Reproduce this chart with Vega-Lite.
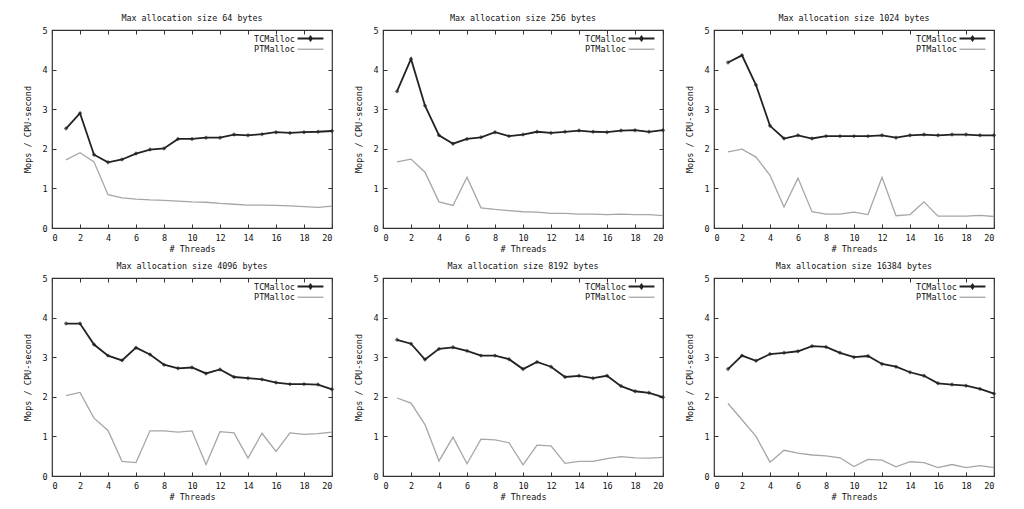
{
  "$schema": "https://vega.github.io/schema/vega-lite/v6.json",
  "background": "white",
  "padding": {"left": 23, "top": 13, "right": 4, "bottom": 4},
  "data": {"values": [
    {"size":64,"threads":1,"TCMalloc":2.51,"PTMalloc":1.72},{"size":64,"threads":2,"TCMalloc":2.90,"PTMalloc":1.90},{"size":64,"threads":3,"TCMalloc":1.85,"PTMalloc":1.67},{"size":64,"threads":4,"TCMalloc":1.66,"PTMalloc":0.84},{"size":64,"threads":5,"TCMalloc":1.73,"PTMalloc":0.76},
    {"size":64,"threads":6,"TCMalloc":1.88,"PTMalloc":0.73},{"size":64,"threads":7,"TCMalloc":1.98,"PTMalloc":0.71},{"size":64,"threads":8,"TCMalloc":2.01,"PTMalloc":0.70},{"size":64,"threads":9,"TCMalloc":2.25,"PTMalloc":0.68},{"size":64,"threads":10,"TCMalloc":2.25,"PTMalloc":0.66},
    {"size":64,"threads":11,"TCMalloc":2.28,"PTMalloc":0.65},{"size":64,"threads":12,"TCMalloc":2.28,"PTMalloc":0.62},{"size":64,"threads":13,"TCMalloc":2.36,"PTMalloc":0.60},{"size":64,"threads":14,"TCMalloc":2.34,"PTMalloc":0.58},{"size":64,"threads":15,"TCMalloc":2.37,"PTMalloc":0.58},
    {"size":64,"threads":16,"TCMalloc":2.42,"PTMalloc":0.57},{"size":64,"threads":17,"TCMalloc":2.40,"PTMalloc":0.56},{"size":64,"threads":18,"TCMalloc":2.42,"PTMalloc":0.54},{"size":64,"threads":19,"TCMalloc":2.43,"PTMalloc":0.52},{"size":64,"threads":20,"TCMalloc":2.45,"PTMalloc":0.55},

    {"size":256,"threads":1,"TCMalloc":3.45,"PTMalloc":1.67},{"size":256,"threads":2,"TCMalloc":4.27,"PTMalloc":1.74},{"size":256,"threads":3,"TCMalloc":3.09,"PTMalloc":1.41},{"size":256,"threads":4,"TCMalloc":2.34,"PTMalloc":0.66},{"size":256,"threads":5,"TCMalloc":2.13,"PTMalloc":0.57},
    {"size":256,"threads":6,"TCMalloc":2.25,"PTMalloc":1.28},{"size":256,"threads":7,"TCMalloc":2.29,"PTMalloc":0.51},{"size":256,"threads":8,"TCMalloc":2.42,"PTMalloc":0.47},{"size":256,"threads":9,"TCMalloc":2.32,"PTMalloc":0.44},{"size":256,"threads":10,"TCMalloc":2.36,"PTMalloc":0.41},
    {"size":256,"threads":11,"TCMalloc":2.43,"PTMalloc":0.40},{"size":256,"threads":12,"TCMalloc":2.40,"PTMalloc":0.37},{"size":256,"threads":13,"TCMalloc":2.43,"PTMalloc":0.37},{"size":256,"threads":14,"TCMalloc":2.46,"PTMalloc":0.35},{"size":256,"threads":15,"TCMalloc":2.43,"PTMalloc":0.35},
    {"size":256,"threads":16,"TCMalloc":2.42,"PTMalloc":0.34},{"size":256,"threads":17,"TCMalloc":2.46,"PTMalloc":0.35},{"size":256,"threads":18,"TCMalloc":2.47,"PTMalloc":0.34},{"size":256,"threads":19,"TCMalloc":2.43,"PTMalloc":0.34},{"size":256,"threads":20,"TCMalloc":2.47,"PTMalloc":0.31},

    {"size":1024,"threads":1,"TCMalloc":4.18,"PTMalloc":1.92},{"size":1024,"threads":2,"TCMalloc":4.36,"PTMalloc":1.99},{"size":1024,"threads":3,"TCMalloc":3.61,"PTMalloc":1.79},{"size":1024,"threads":4,"TCMalloc":2.58,"PTMalloc":1.33},{"size":1024,"threads":5,"TCMalloc":2.26,"PTMalloc":0.53},
    {"size":1024,"threads":6,"TCMalloc":2.34,"PTMalloc":1.26},{"size":1024,"threads":7,"TCMalloc":2.26,"PTMalloc":0.41},{"size":1024,"threads":8,"TCMalloc":2.32,"PTMalloc":0.35},{"size":1024,"threads":9,"TCMalloc":2.32,"PTMalloc":0.35},{"size":1024,"threads":10,"TCMalloc":2.32,"PTMalloc":0.40},
    {"size":1024,"threads":11,"TCMalloc":2.32,"PTMalloc":0.34},{"size":1024,"threads":12,"TCMalloc":2.34,"PTMalloc":1.28},{"size":1024,"threads":13,"TCMalloc":2.28,"PTMalloc":0.31},{"size":1024,"threads":14,"TCMalloc":2.34,"PTMalloc":0.34},{"size":1024,"threads":15,"TCMalloc":2.36,"PTMalloc":0.66},
    {"size":1024,"threads":16,"TCMalloc":2.34,"PTMalloc":0.30},{"size":1024,"threads":17,"TCMalloc":2.36,"PTMalloc":0.30},{"size":1024,"threads":18,"TCMalloc":2.36,"PTMalloc":0.30},{"size":1024,"threads":19,"TCMalloc":2.34,"PTMalloc":0.32},{"size":1024,"threads":20,"TCMalloc":2.34,"PTMalloc":0.29},

    {"size":4096,"threads":1,"TCMalloc":3.85,"PTMalloc":2.03},{"size":4096,"threads":2,"TCMalloc":3.85,"PTMalloc":2.11},{"size":4096,"threads":3,"TCMalloc":3.32,"PTMalloc":1.46},{"size":4096,"threads":4,"TCMalloc":3.04,"PTMalloc":1.15},{"size":4096,"threads":5,"TCMalloc":2.92,"PTMalloc":0.37},
    {"size":4096,"threads":6,"TCMalloc":3.24,"PTMalloc":0.34},{"size":4096,"threads":7,"TCMalloc":3.07,"PTMalloc":1.14},{"size":4096,"threads":8,"TCMalloc":2.81,"PTMalloc":1.14},{"size":4096,"threads":9,"TCMalloc":2.72,"PTMalloc":1.11},{"size":4096,"threads":10,"TCMalloc":2.74,"PTMalloc":1.14},
    {"size":4096,"threads":11,"TCMalloc":2.59,"PTMalloc":0.29},{"size":4096,"threads":12,"TCMalloc":2.69,"PTMalloc":1.12},{"size":4096,"threads":13,"TCMalloc":2.50,"PTMalloc":1.09},{"size":4096,"threads":14,"TCMalloc":2.47,"PTMalloc":0.45},{"size":4096,"threads":15,"TCMalloc":2.44,"PTMalloc":1.08},
    {"size":4096,"threads":16,"TCMalloc":2.36,"PTMalloc":0.62},{"size":4096,"threads":17,"TCMalloc":2.32,"PTMalloc":1.09},{"size":4096,"threads":18,"TCMalloc":2.32,"PTMalloc":1.05},{"size":4096,"threads":19,"TCMalloc":2.31,"PTMalloc":1.07},{"size":4096,"threads":20,"TCMalloc":2.19,"PTMalloc":1.11},

    {"size":8192,"threads":1,"TCMalloc":3.44,"PTMalloc":1.97},{"size":8192,"threads":2,"TCMalloc":3.34,"PTMalloc":1.84},{"size":8192,"threads":3,"TCMalloc":2.94,"PTMalloc":1.30},{"size":8192,"threads":4,"TCMalloc":3.21,"PTMalloc":0.38},{"size":8192,"threads":5,"TCMalloc":3.25,"PTMalloc":0.98},
    {"size":8192,"threads":6,"TCMalloc":3.16,"PTMalloc":0.31},{"size":8192,"threads":7,"TCMalloc":3.04,"PTMalloc":0.93},{"size":8192,"threads":8,"TCMalloc":3.04,"PTMalloc":0.91},{"size":8192,"threads":9,"TCMalloc":2.95,"PTMalloc":0.84},{"size":8192,"threads":10,"TCMalloc":2.70,"PTMalloc":0.28},
    {"size":8192,"threads":11,"TCMalloc":2.88,"PTMalloc":0.78},{"size":8192,"threads":12,"TCMalloc":2.76,"PTMalloc":0.76},{"size":8192,"threads":13,"TCMalloc":2.50,"PTMalloc":0.32},{"size":8192,"threads":14,"TCMalloc":2.53,"PTMalloc":0.37},{"size":8192,"threads":15,"TCMalloc":2.47,"PTMalloc":0.37},
    {"size":8192,"threads":16,"TCMalloc":2.53,"PTMalloc":0.44},{"size":8192,"threads":17,"TCMalloc":2.27,"PTMalloc":0.49},{"size":8192,"threads":18,"TCMalloc":2.14,"PTMalloc":0.46},{"size":8192,"threads":19,"TCMalloc":2.10,"PTMalloc":0.45},{"size":8192,"threads":20,"TCMalloc":1.99,"PTMalloc":0.47},

    {"size":16384,"threads":1,"TCMalloc":2.70,"PTMalloc":1.83},{"size":16384,"threads":2,"TCMalloc":3.04,"PTMalloc":1.42},{"size":16384,"threads":3,"TCMalloc":2.91,"PTMalloc":1.00},{"size":16384,"threads":4,"TCMalloc":3.08,"PTMalloc":0.35},{"size":16384,"threads":5,"TCMalloc":3.11,"PTMalloc":0.65},
    {"size":16384,"threads":6,"TCMalloc":3.15,"PTMalloc":0.58},{"size":16384,"threads":7,"TCMalloc":3.28,"PTMalloc":0.53},{"size":16384,"threads":8,"TCMalloc":3.26,"PTMalloc":0.51},{"size":16384,"threads":9,"TCMalloc":3.11,"PTMalloc":0.46},{"size":16384,"threads":10,"TCMalloc":3.00,"PTMalloc":0.24},
    {"size":16384,"threads":11,"TCMalloc":3.03,"PTMalloc":0.42},{"size":16384,"threads":12,"TCMalloc":2.83,"PTMalloc":0.40},{"size":16384,"threads":13,"TCMalloc":2.76,"PTMalloc":0.23},{"size":16384,"threads":14,"TCMalloc":2.62,"PTMalloc":0.36},{"size":16384,"threads":15,"TCMalloc":2.53,"PTMalloc":0.34},
    {"size":16384,"threads":16,"TCMalloc":2.34,"PTMalloc":0.21},{"size":16384,"threads":17,"TCMalloc":2.31,"PTMalloc":0.29},{"size":16384,"threads":18,"TCMalloc":2.28,"PTMalloc":0.21},{"size":16384,"threads":19,"TCMalloc":2.20,"PTMalloc":0.26},{"size":16384,"threads":20,"TCMalloc":2.08,"PTMalloc":0.21}
  ]},
  "columns": 3,
  "spacing": {"column": 17, "row": 7},
  "concat": [
    {"title": "Max allocation size 64 bytes", "width": 280, "height": 198,
     "transform": [{"filter": "datum.size == 64"}, {"fold": ["TCMalloc", "PTMalloc"], "as": ["allocator", "mops"]}],
     "layer": [
       {"mark": {"type": "line"},
        "encoding": {
          "x": {"field": "threads", "type": "quantitative", "scale": {"domain": [0, 20]}, "axis": {"title": "# Threads", "values": [0,2,4,6,8,10,12,14,16,18,20]}},
          "y": {"field": "mops", "type": "quantitative", "scale": {"domain": [0, 5]}, "axis": {"title": "Mops / CPU-second", "values": [0,1,2,3,4,5]}},
          "color": {"field": "allocator", "type": "nominal", "scale": {"domain": ["TCMalloc", "PTMalloc"], "range": ["#222222", "#a6a6a6"]},
                    "legend": {"title": null, "encode": {"symbols": {"update": {"shape": [{"test": "datum.value === 'TCMalloc'", "value": "M-4,0H4M0,-0.6L0.45,0L0,0.6L-0.45,0Z"}, {"value": "M-4,0H4"}], "fill": [{"test": "datum.value === 'TCMalloc'", "value": "#222222"}, {"value": "transparent"}]}}}}},
          "strokeWidth": {"field": "allocator", "type": "nominal", "scale": {"domain": ["TCMalloc", "PTMalloc"], "range": [1.8, 1.3]}, "legend": null}
        }},
       {"transform": [{"filter": "datum.allocator == 'TCMalloc'"}],
        "mark": {"type": "point", "shape": "diamond", "filled": true, "size": 20, "color": "#222222"},
        "encoding": {
          "x": {"field": "threads", "type": "quantitative", "scale": {"domain": [0, 20]}, "axis": {"orient": "top", "labels": false, "title": null, "values": [0,2,4,6,8,10,12,14,16,18,20]}},
          "y": {"field": "mops", "type": "quantitative", "scale": {"domain": [0, 5]}, "axis": {"orient": "right", "labels": false, "title": null, "values": [0,1,2,3,4,5]}}
        }}
     ],
     "resolve": {"axis": {"x": "independent", "y": "independent"}}},
    {"title": "Max allocation size 256 bytes", "width": 280, "height": 198,
     "transform": [{"filter": "datum.size == 256"}, {"fold": ["TCMalloc", "PTMalloc"], "as": ["allocator", "mops"]}],
     "layer": [
       {"mark": {"type": "line"},
        "encoding": {
          "x": {"field": "threads", "type": "quantitative", "scale": {"domain": [0, 20]}, "axis": {"title": "# Threads", "values": [0,2,4,6,8,10,12,14,16,18,20]}},
          "y": {"field": "mops", "type": "quantitative", "scale": {"domain": [0, 5]}, "axis": {"title": "Mops / CPU-second", "values": [0,1,2,3,4,5]}},
          "color": {"field": "allocator", "type": "nominal", "scale": {"domain": ["TCMalloc", "PTMalloc"], "range": ["#222222", "#a6a6a6"]},
                    "legend": {"title": null, "encode": {"symbols": {"update": {"shape": [{"test": "datum.value === 'TCMalloc'", "value": "M-4,0H4M0,-0.6L0.45,0L0,0.6L-0.45,0Z"}, {"value": "M-4,0H4"}], "fill": [{"test": "datum.value === 'TCMalloc'", "value": "#222222"}, {"value": "transparent"}]}}}}},
          "strokeWidth": {"field": "allocator", "type": "nominal", "scale": {"domain": ["TCMalloc", "PTMalloc"], "range": [1.8, 1.3]}, "legend": null}
        }},
       {"transform": [{"filter": "datum.allocator == 'TCMalloc'"}],
        "mark": {"type": "point", "shape": "diamond", "filled": true, "size": 20, "color": "#222222"},
        "encoding": {
          "x": {"field": "threads", "type": "quantitative", "scale": {"domain": [0, 20]}, "axis": {"orient": "top", "labels": false, "title": null, "values": [0,2,4,6,8,10,12,14,16,18,20]}},
          "y": {"field": "mops", "type": "quantitative", "scale": {"domain": [0, 5]}, "axis": {"orient": "right", "labels": false, "title": null, "values": [0,1,2,3,4,5]}}
        }}
     ],
     "resolve": {"axis": {"x": "independent", "y": "independent"}}},
    {"title": "Max allocation size 1024 bytes", "width": 280, "height": 198,
     "transform": [{"filter": "datum.size == 1024"}, {"fold": ["TCMalloc", "PTMalloc"], "as": ["allocator", "mops"]}],
     "layer": [
       {"mark": {"type": "line"},
        "encoding": {
          "x": {"field": "threads", "type": "quantitative", "scale": {"domain": [0, 20]}, "axis": {"title": "# Threads", "values": [0,2,4,6,8,10,12,14,16,18,20]}},
          "y": {"field": "mops", "type": "quantitative", "scale": {"domain": [0, 5]}, "axis": {"title": "Mops / CPU-second", "values": [0,1,2,3,4,5]}},
          "color": {"field": "allocator", "type": "nominal", "scale": {"domain": ["TCMalloc", "PTMalloc"], "range": ["#222222", "#a6a6a6"]},
                    "legend": {"title": null, "encode": {"symbols": {"update": {"shape": [{"test": "datum.value === 'TCMalloc'", "value": "M-4,0H4M0,-0.6L0.45,0L0,0.6L-0.45,0Z"}, {"value": "M-4,0H4"}], "fill": [{"test": "datum.value === 'TCMalloc'", "value": "#222222"}, {"value": "transparent"}]}}}}},
          "strokeWidth": {"field": "allocator", "type": "nominal", "scale": {"domain": ["TCMalloc", "PTMalloc"], "range": [1.8, 1.3]}, "legend": null}
        }},
       {"transform": [{"filter": "datum.allocator == 'TCMalloc'"}],
        "mark": {"type": "point", "shape": "diamond", "filled": true, "size": 20, "color": "#222222"},
        "encoding": {
          "x": {"field": "threads", "type": "quantitative", "scale": {"domain": [0, 20]}, "axis": {"orient": "top", "labels": false, "title": null, "values": [0,2,4,6,8,10,12,14,16,18,20]}},
          "y": {"field": "mops", "type": "quantitative", "scale": {"domain": [0, 5]}, "axis": {"orient": "right", "labels": false, "title": null, "values": [0,1,2,3,4,5]}}
        }}
     ],
     "resolve": {"axis": {"x": "independent", "y": "independent"}}},
    {"title": "Max allocation size 4096 bytes", "width": 280, "height": 198,
     "transform": [{"filter": "datum.size == 4096"}, {"fold": ["TCMalloc", "PTMalloc"], "as": ["allocator", "mops"]}],
     "layer": [
       {"mark": {"type": "line"},
        "encoding": {
          "x": {"field": "threads", "type": "quantitative", "scale": {"domain": [0, 20]}, "axis": {"title": "# Threads", "values": [0,2,4,6,8,10,12,14,16,18,20]}},
          "y": {"field": "mops", "type": "quantitative", "scale": {"domain": [0, 5]}, "axis": {"title": "Mops / CPU-second", "values": [0,1,2,3,4,5]}},
          "color": {"field": "allocator", "type": "nominal", "scale": {"domain": ["TCMalloc", "PTMalloc"], "range": ["#222222", "#a6a6a6"]},
                    "legend": {"title": null, "encode": {"symbols": {"update": {"shape": [{"test": "datum.value === 'TCMalloc'", "value": "M-4,0H4M0,-0.6L0.45,0L0,0.6L-0.45,0Z"}, {"value": "M-4,0H4"}], "fill": [{"test": "datum.value === 'TCMalloc'", "value": "#222222"}, {"value": "transparent"}]}}}}},
          "strokeWidth": {"field": "allocator", "type": "nominal", "scale": {"domain": ["TCMalloc", "PTMalloc"], "range": [1.8, 1.3]}, "legend": null}
        }},
       {"transform": [{"filter": "datum.allocator == 'TCMalloc'"}],
        "mark": {"type": "point", "shape": "diamond", "filled": true, "size": 20, "color": "#222222"},
        "encoding": {
          "x": {"field": "threads", "type": "quantitative", "scale": {"domain": [0, 20]}, "axis": {"orient": "top", "labels": false, "title": null, "values": [0,2,4,6,8,10,12,14,16,18,20]}},
          "y": {"field": "mops", "type": "quantitative", "scale": {"domain": [0, 5]}, "axis": {"orient": "right", "labels": false, "title": null, "values": [0,1,2,3,4,5]}}
        }}
     ],
     "resolve": {"axis": {"x": "independent", "y": "independent"}}},
    {"title": "Max allocation size 8192 bytes", "width": 280, "height": 198,
     "transform": [{"filter": "datum.size == 8192"}, {"fold": ["TCMalloc", "PTMalloc"], "as": ["allocator", "mops"]}],
     "layer": [
       {"mark": {"type": "line"},
        "encoding": {
          "x": {"field": "threads", "type": "quantitative", "scale": {"domain": [0, 20]}, "axis": {"title": "# Threads", "values": [0,2,4,6,8,10,12,14,16,18,20]}},
          "y": {"field": "mops", "type": "quantitative", "scale": {"domain": [0, 5]}, "axis": {"title": "Mops / CPU-second", "values": [0,1,2,3,4,5]}},
          "color": {"field": "allocator", "type": "nominal", "scale": {"domain": ["TCMalloc", "PTMalloc"], "range": ["#222222", "#a6a6a6"]},
                    "legend": {"title": null, "encode": {"symbols": {"update": {"shape": [{"test": "datum.value === 'TCMalloc'", "value": "M-4,0H4M0,-0.6L0.45,0L0,0.6L-0.45,0Z"}, {"value": "M-4,0H4"}], "fill": [{"test": "datum.value === 'TCMalloc'", "value": "#222222"}, {"value": "transparent"}]}}}}},
          "strokeWidth": {"field": "allocator", "type": "nominal", "scale": {"domain": ["TCMalloc", "PTMalloc"], "range": [1.8, 1.3]}, "legend": null}
        }},
       {"transform": [{"filter": "datum.allocator == 'TCMalloc'"}],
        "mark": {"type": "point", "shape": "diamond", "filled": true, "size": 20, "color": "#222222"},
        "encoding": {
          "x": {"field": "threads", "type": "quantitative", "scale": {"domain": [0, 20]}, "axis": {"orient": "top", "labels": false, "title": null, "values": [0,2,4,6,8,10,12,14,16,18,20]}},
          "y": {"field": "mops", "type": "quantitative", "scale": {"domain": [0, 5]}, "axis": {"orient": "right", "labels": false, "title": null, "values": [0,1,2,3,4,5]}}
        }}
     ],
     "resolve": {"axis": {"x": "independent", "y": "independent"}}},
    {"title": "Max allocation size 16384 bytes", "width": 280, "height": 198,
     "transform": [{"filter": "datum.size == 16384"}, {"fold": ["TCMalloc", "PTMalloc"], "as": ["allocator", "mops"]}],
     "layer": [
       {"mark": {"type": "line"},
        "encoding": {
          "x": {"field": "threads", "type": "quantitative", "scale": {"domain": [0, 20]}, "axis": {"title": "# Threads", "values": [0,2,4,6,8,10,12,14,16,18,20]}},
          "y": {"field": "mops", "type": "quantitative", "scale": {"domain": [0, 5]}, "axis": {"title": "Mops / CPU-second", "values": [0,1,2,3,4,5]}},
          "color": {"field": "allocator", "type": "nominal", "scale": {"domain": ["TCMalloc", "PTMalloc"], "range": ["#222222", "#a6a6a6"]},
                    "legend": {"title": null, "encode": {"symbols": {"update": {"shape": [{"test": "datum.value === 'TCMalloc'", "value": "M-4,0H4M0,-0.6L0.45,0L0,0.6L-0.45,0Z"}, {"value": "M-4,0H4"}], "fill": [{"test": "datum.value === 'TCMalloc'", "value": "#222222"}, {"value": "transparent"}]}}}}},
          "strokeWidth": {"field": "allocator", "type": "nominal", "scale": {"domain": ["TCMalloc", "PTMalloc"], "range": [1.8, 1.3]}, "legend": null}
        }},
       {"transform": [{"filter": "datum.allocator == 'TCMalloc'"}],
        "mark": {"type": "point", "shape": "diamond", "filled": true, "size": 20, "color": "#222222"},
        "encoding": {
          "x": {"field": "threads", "type": "quantitative", "scale": {"domain": [0, 20]}, "axis": {"orient": "top", "labels": false, "title": null, "values": [0,2,4,6,8,10,12,14,16,18,20]}},
          "y": {"field": "mops", "type": "quantitative", "scale": {"domain": [0, 5]}, "axis": {"orient": "right", "labels": false, "title": null, "values": [0,1,2,3,4,5]}}
        }}
     ],
     "resolve": {"axis": {"x": "independent", "y": "independent"}}}
  ],
  "resolve": {"scale": {"color": "independent", "strokeWidth": "independent"}, "legend": {"color": "independent", "strokeWidth": "independent"}},
  "config": {
    "font": "DejaVu Sans Mono",
    "view": {"stroke": "#333333", "strokeWidth": 1.2},
    "title": {"font": "DejaVu Sans Mono", "fontSize": 8.4, "fontWeight": "normal", "color": "#111111", "offset": 4},
    "axis": {"domain": false, "grid": false, "tickSize": -4, "tickColor": "#333333", "tickWidth": 1,
             "labelFont": "DejaVu Sans Mono", "labelFontSize": 8.5, "labelColor": "#111111", "labelPadding": 9,
             "titleFont": "DejaVu Sans Mono", "titleFontSize": 8.5, "titleFontWeight": "normal", "titleColor": "#111111"},
    "axisX": {"titlePadding": 3},
    "axisY": {"titlePadding": 9},
    "legend": {"orient": "top-right", "offset": 4, "padding": 0, "rowPadding": -4,
               "labelFont": "DejaVu Sans Mono", "labelFontSize": 8.5, "labelColor": "#111111", "labelAlign": "right", "labelOffset": -20,
               "symbolSize": 42, "symbolStrokeWidth": 1.5, "symbolType": "M-4,0H4"}
  }
}
